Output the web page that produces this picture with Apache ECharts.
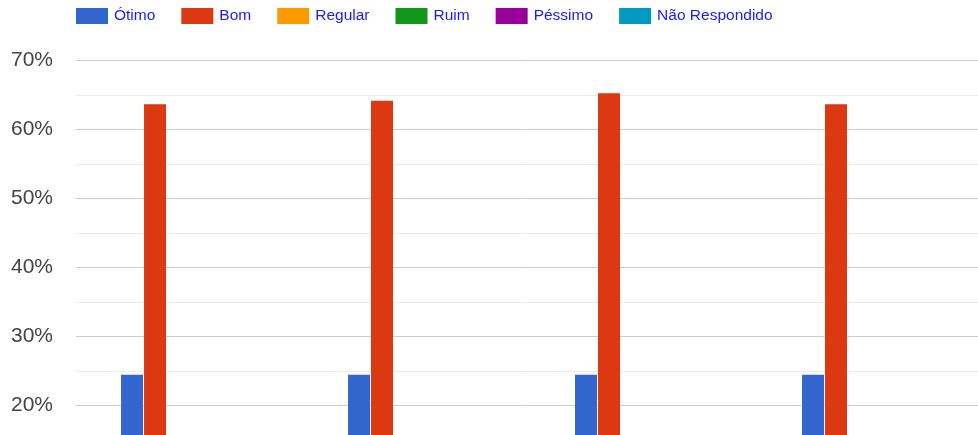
<!DOCTYPE html>
<html>
<head>
<meta charset="utf-8">
<script src="https://cdn.jsdelivr.net/npm/echarts@6/dist/echarts.min.js"></script>
<style>
html,body{margin:0;padding:0;background:#fff;}
#chart{width:978px;height:435px;}
</style>
</head>
<body>
<div id="chart"></div>
<script>
var categories = ['1', '2', '3', '4'];
var seriesNames = ['Ótimo', 'Bom', 'Regular', 'Ruim', 'Péssimo', 'Não Respondido'];
var otimo = [24.5, 24.5, 24.5, 24.5];
var bom = [63.7, 64.2, 65.3, 63.7];
var regular = [9.5, 9.0, 8.5, 9.5];
var ruim = [1.5, 1.5, 1.0, 1.5];
var pessimo = [0.5, 0.5, 0.5, 0.5];
var naoRespondido = [0.3, 0.3, 0.2, 0.3];
var colors = ['#3366cc', '#dc3912', '#ff9900', '#109618', '#990099', '#0099c6'];
var yTicks = [0, 10, 20, 30, 40, 50, 60, 70];

var values = [otimo, bom, regular, ruim, pessimo, naoRespondido];
var chart = echarts.init(document.getElementById('chart'), null, {renderer: 'canvas'});
var series = seriesNames.map(function (n, i) {
  return {
    name: n,
    type: 'bar',
    data: values[i],
    barWidth: 22,
    barGap: '4.5%',
    itemStyle: {color: colors[i]},
    animation: false
  };
});
chart.setOption({
  animation: false,
  color: colors,
  legend: {
    left: 76,
    top: 8,
    padding: 0,
    itemWidth: 32,
    itemHeight: 16,
    itemGap: 26,
    icon: 'rect',
    data: seriesNames,
    textStyle: {color: '#1a1aff', fontSize: 15.5, fontFamily: 'Liberation Sans, Arial', padding: [0, 0, 0, 1]}
  },
  grid: {left: 76, top: 60.7, width: 908, height: 483, containLabel: false, outerBoundsMode: 'none'},
  xAxis: {
    type: 'category',
    data: categories,
    axisLine: {show: false},
    axisTick: {show: false},
    axisLabel: {show: false}
  },
  yAxis: {
    type: 'value',
    min: yTicks[0],
    max: yTicks[yTicks.length - 1],
    interval: 10,
    axisLine: {show: false},
    axisTick: {show: false},
    axisLabel: {
      formatter: '{value}%',
      color: '#444',
      fontSize: 21,
      fontFamily: 'Liberation Sans, Arial',
      margin: 23
    },
    splitLine: {lineStyle: {color: '#cccccc', width: 1}},
    minorTick: {show: false, splitNumber: 2},
    minorSplitLine: {show: true, lineStyle: {color: '#ebebeb', width: 1}}
  },
  series: series
});
</script>
</body>
</html>
